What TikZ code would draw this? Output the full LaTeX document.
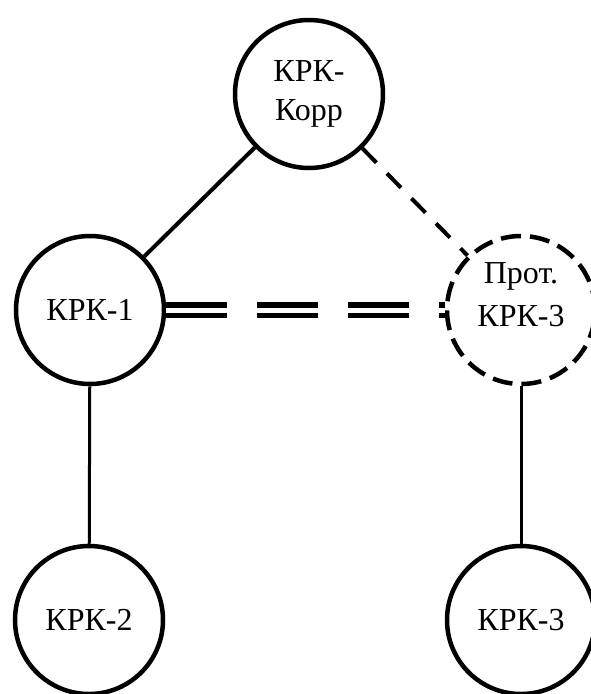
\documentclass[tikz,border=0pt]{standalone}
\usepackage{fontspec}
\setmainfont{Liberation Serif}
\begin{document}
\begin{tikzpicture}[x=1pt,y=-1pt,
  knot/.style={circle,draw,line width=4.5pt,minimum size=148pt,inner sep=0pt,align=center,
    font=\fontsize{32}{39}\selectfont},
  protknot/.style={knot,dash pattern=on 20pt off 9.1pt,font=\fontsize{32}{43}\selectfont},
  solidlink/.style={line width=4pt},
  thinlink/.style={line width=3pt},
  dashlink/.style={line width=4pt,dash pattern=on 20pt off 15pt},
  dbllink/.style={line width=5.3pt,double,double distance=5pt,dash pattern=on 61pt off 30pt}]
\useasboundingbox (0,0) rectangle (591,694);
\node[knot] (korr) at (309,94) {КРК-\\Корр};
\node[knot] (k1) at (90,310) {КРК-1};
\node[protknot,text depth=30pt] (prot) at (521,310) {Прот.\\КРК-3};
\node[knot] (k2) at (89,620) {КРК-2};
\node[knot] (k3) at (521,620) {КРК-3};
\draw[solidlink] (korr) -- (k1);
\draw[dashlink] (korr) -- (prot);
\draw[dbllink] (k1) -- (prot);
\draw[thinlink] (k1) -- (k2);
\draw[thinlink] (prot) -- (k3);
\end{tikzpicture}
\end{document}
